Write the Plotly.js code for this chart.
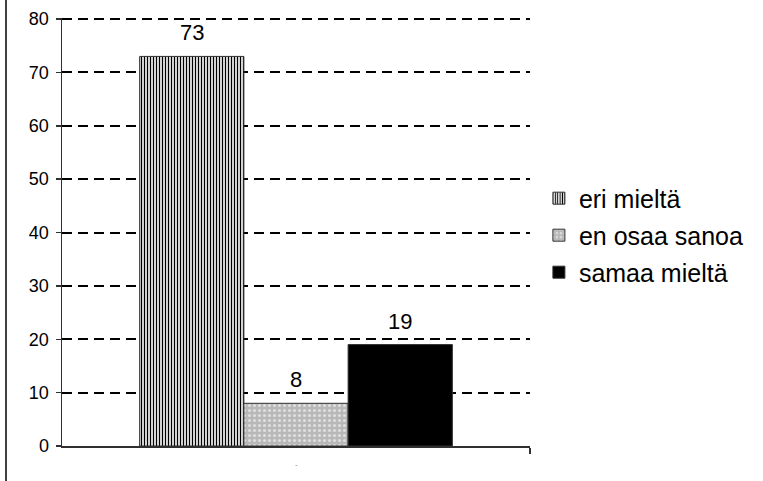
<!DOCTYPE html>
<html>
<head>
<meta charset="utf-8">
<script src="https://cdn.plot.ly/plotly-3.0.1.min.js"></script>
<style>
html,body{margin:0;padding:0;background:#fff;}
#chart{width:763px;height:481px;}
</style>
</head>
<body>
<div id="chart"></div>
<script>
const categories = ["eri mieltä", "en osaa sanoa", "samaa mieltä"];
const values = [73, 8, 19];
const xCategoryLabel = "-";
const yTicks = [0, 10, 20, 30, 40, 50, 60, 70, 80];

const styles = [
  {color: "#ffffff", pattern: {shape: "|", fgcolor: "#000000", bgcolor: "#ffffff", size: 3, solidity: 0.45, fillmode: "replace"}},
  {color: "#c0c0c0", pattern: {shape: ".", fgcolor: "#dedede", bgcolor: "#b8b8b8", size: 5, solidity: 0.3, fillmode: "replace"}},
  {color: "#000000"}
];

const half = 2.245;
const traces = categories.map((name, i) => ({
  type: "bar",
  name: name,
  x: [i - 1],
  y: [values[i]],
  width: 1,
  marker: Object.assign({}, styles[i], {line: {color: "#303030", width: 1}}),
  legendgroup: "g" + i,
  hoverinfo: "skip"
}));

const FONT = "Liberation Sans, Arial, sans-serif";
const annotations = categories.map((name, i) => ({
  x: i - 1, y: values[i], xref: "x", yref: "y",
  text: String(values[i]), showarrow: false,
  yanchor: "bottom", yshift: 9,
  font: {family: FONT, size: 22, color: "#000"}
}));
annotations.push({
  x: 0, y: 0, xref: "x", yref: "y", text: xCategoryLabel, showarrow: false,
  yshift: -18, font: {family: FONT, size: 8, color: "#888"}
});

const layout = {
  width: 763, height: 481,
  margin: {l: 62, r: 233, t: 18, b: 35},
  paper_bgcolor: "#ffffff", plot_bgcolor: "#ffffff",
  barmode: "overlay",
  showlegend: true,
  font: {family: FONT, color: "#000"},
  xaxis: {
    range: [-half, half], fixedrange: true,
    showgrid: false, zeroline: false,
    showline: true, linecolor: "#303030", linewidth: 1.5,
    tickvals: [half], ticktext: [""], ticks: "outside", ticklen: 6, tickcolor: "#303030", tickwidth: 1.5
  },
  yaxis: {
    range: [0, 80.2], tickvals: yTicks,
    showgrid: true, gridcolor: "#000000", gridwidth: 2, griddash: "10px,6px",
    zeroline: false,
    showline: true, linecolor: "#303030", linewidth: 1.5,
    ticks: "outside", ticklen: 5, tickcolor: "#303030", tickwidth: 1.5,
    ticklabelstandoff: 3,
    tickfont: {family: FONT, size: 18, color: "#000"}
  },
  legend: {
    x: 1.019, xanchor: "left", y: 0.492, yanchor: "middle",
    traceorder: "grouped", tracegroupgap: 1.5,
    font: {family: FONT, size: 25, color: "#000"},
    bgcolor: "rgba(0,0,0,0)", borderwidth: 0
  },
  annotations: annotations,
  shapes: [{
    type: "line", xref: "paper", yref: "paper",
    x0: -56/468, x1: -56/468, y0: -0.1, y1: 1.1,
    line: {color: "#000", width: 1.5}
  }]
};

Plotly.newPlot("chart", traces, layout, {displayModeBar: false, staticPlot: true});
</script>
</body>
</html>
